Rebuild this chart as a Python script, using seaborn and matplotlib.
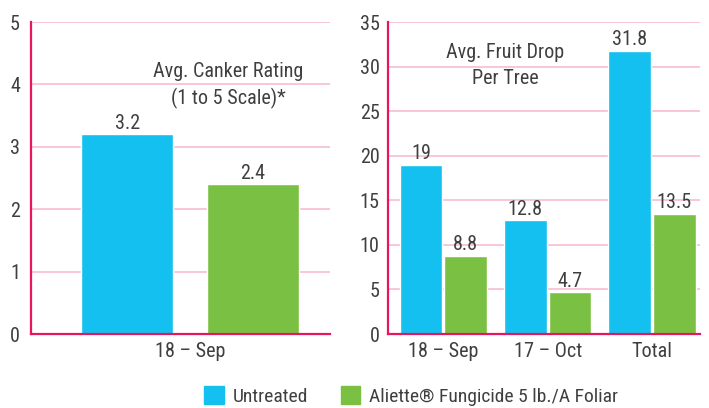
import pandas as pd
import numpy as np
import matplotlib.pyplot as plt
import matplotlib.patches as mpatches
import seaborn as sns

# data
treatments = ["Untreated", "Aliette\u00ae Fungicide 5 lb./A Foliar"]
canker_dates = ["18 \u2013 Sep"]
canker_untreated = [3.2]
canker_aliette = [2.4]
drop_dates = ["18 \u2013 Sep", "17 \u2013 Oct", "Total"]
drop_untreated = [19, 12.8, 31.8]
drop_aliette = [8.8, 4.7, 13.5]

blue = "#13C0F0"
green = "#7AC143"
spine_col = "#E8175D"
grid_col = "#F8BDD0"
text_col = "#3f3f3f"

sns.set_theme(style="white")
plt.rcParams["font.family"] = ["Roboto Condensed", "Roboto", "DejaVu Sans"]
plt.rcParams["text.color"] = text_col
plt.rcParams["axes.labelcolor"] = text_col
plt.rcParams["xtick.color"] = text_col
plt.rcParams["ytick.color"] = text_col

df_canker = pd.DataFrame({
    "Date": canker_dates * 2,
    "Treatment": [treatments[0]] * len(canker_dates) + [treatments[1]] * len(canker_dates),
    "Value": canker_untreated + canker_aliette,
})
df_drop = pd.DataFrame({
    "Date": drop_dates * 2,
    "Treatment": [treatments[0]] * len(drop_dates) + [treatments[1]] * len(drop_dates),
    "Value": drop_untreated + drop_aliette,
})

W, H = 709, 408
fig = plt.figure(figsize=(W / 100, H / 100), dpi=100)
ax1 = fig.add_axes([31 / W, (H - 334) / H, (330 - 31) / W, (334 - 22) / H])
ax2 = fig.add_axes([388 / W, (H - 334) / H, (700 - 388) / W, (334 - 22) / H])

palette = {treatments[0]: blue, treatments[1]: green}

sns.barplot(data=df_canker, x="Date", y="Value", hue="Treatment", palette=palette,
            width=0.85, gap=0.27, saturation=1, ax=ax1, legend=False)
sns.barplot(data=df_drop, x="Date", y="Value", hue="Treatment", palette=palette,
            width=0.86, gap=0.05, saturation=1, ax=ax2, legend=False)

for ax, top, step in [(ax1, 5, 1), (ax2, 35, 5)]:
    ax.set_ylim(0, top)
    ax.set_yticks(np.arange(0, top + step, step))
    ax.grid(axis="y", color=grid_col, linewidth=1.2)
    ax.set_axisbelow(True)
    for s in ["top", "right"]:
        ax.spines[s].set_visible(False)
    for s in ["left", "bottom"]:
        ax.spines[s].set_color(spine_col)
        ax.spines[s].set_linewidth(1.6)
    ax.tick_params(axis="both", length=0, labelsize=14.5, pad=6)
    ax.set_xlabel("")
    ax.set_ylabel("")
    for c in ax.containers:
        ax.bar_label(c, fmt=lambda v: f"{v:g}", fontsize=14.5, color=text_col, padding=1)

ax1.set_xlim(-0.537, 0.473)
ax2.set_xlim(-0.53, 2.46)
ax1.tick_params(axis="y", pad=8)

ax1.text(0.13, 3.98, "Avg. Canker Rating\n(1 to 5 Scale)*", ha="center", va="center",
         fontsize=14.5, linespacing=1.45, color=text_col)
ax2.text(0.59, 30.1, "Avg. Fruit Drop\nPer Tree", ha="center", va="center",
         fontsize=14.5, linespacing=1.45, color=text_col)

handles = [mpatches.Patch(color=blue, label=treatments[0]),
           mpatches.Patch(color=green, label=treatments[1])]
fig.legend(handles=handles, loc="center", bbox_to_anchor=(411 / W, 1 - 396 / H), ncol=2,
           frameon=False, fontsize=14, handlelength=1.0, handleheight=1.0,
           handletextpad=0.45, columnspacing=1.7)

fig.savefig("out.png", dpi=100)
